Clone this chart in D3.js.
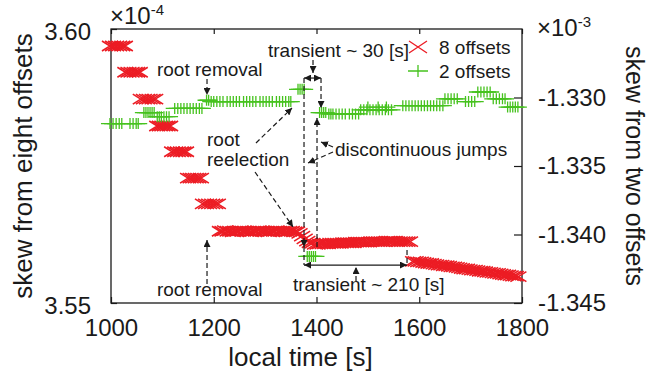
<!DOCTYPE html>
<html>
<head>
<meta charset="utf-8">
<script src="https://cdn.jsdelivr.net/npm/d3@7"></script>
<style>
  body { margin: 0; background: #fff; }
  text { font-family: "Liberation Sans", Arial, sans-serif; fill: #1a1a1a; }
</style>
</head>
<body>
<div id="chart"></div>
<script>
// skew from eight offsets (x 1e-4), left axis
const redTime = [
  998, 1004, 1010, 1016, 1022, 1027,
  1028, 1034, 1040, 1046, 1051, 1056,
  1058, 1064, 1070, 1075, 1081, 1086,
  1090, 1095, 1100, 1105, 1110, 1115,
  1119, 1125, 1130, 1136, 1141, 1146,
  1150, 1155, 1160, 1165, 1170, 1175,
  1179, 1185, 1191, 1197, 1203, 1208,
  1212, 1217, 1222, 1227, 1232, 1237, 1242, 1247, 1252, 1257, 1262, 1267, 1272, 1277, 1282,
  1287, 1292, 1297, 1302, 1307, 1312, 1317, 1322, 1327, 1332, 1337, 1342, 1347, 1352, 1357,
  1362, 1367, 1372, 1377, 1382, 1387, 1392,
  1397, 1402, 1407, 1412, 1417, 1422, 1427, 1432, 1437, 1442, 1447, 1452, 1457, 1462, 1467,
  1472, 1477, 1482, 1487, 1492, 1497, 1502, 1507, 1512, 1517, 1522, 1527, 1532, 1537, 1542,
  1547, 1552, 1557, 1562, 1567, 1572, 1577, 1582,
  1588, 1593, 1598, 1603, 1608, 1613, 1618, 1623, 1628, 1633, 1638, 1643, 1648, 1653, 1658,
  1663, 1668, 1673, 1678, 1683, 1688, 1693, 1698, 1703, 1708, 1713, 1718, 1723, 1728, 1733,
  1738, 1743, 1748, 1753, 1758, 1763, 1768, 1773, 1778, 1783, 1788, 1793
];
const redSkew = [
  3.5969, 3.5969, 3.5969, 3.5969, 3.5969, 3.5969,
  3.5921, 3.5921, 3.5921, 3.5921, 3.5921, 3.5921,
  3.5872, 3.5872, 3.5872, 3.5872, 3.5872, 3.5872,
  3.5823, 3.5823, 3.5823, 3.5823, 3.5823, 3.5823,
  3.5776, 3.5776, 3.5776, 3.5776, 3.5776, 3.5776,
  3.5728, 3.5728, 3.5728, 3.5728, 3.5728, 3.5728,
  3.5681, 3.5681, 3.5681, 3.5681, 3.5681, 3.5681,
  3.5631, 3.5631, 3.5632, 3.5631, 3.5631, 3.5630, 3.5631, 3.5631, 3.5632, 3.5631, 3.5631, 3.5631, 3.5630, 3.5631, 3.5631,
  3.5632, 3.5631, 3.5631, 3.5631, 3.5630, 3.5631, 3.5631, 3.5632, 3.5631, 3.5631, 3.5631, 3.5630, 3.5631, 3.5631, 3.5630,
  3.5630, 3.5627, 3.5622, 3.5617, 3.5613, 3.5610, 3.5609,
  3.5607, 3.5607, 3.5608, 3.5608, 3.5608, 3.5608, 3.5609, 3.5609, 3.5609, 3.5609, 3.5609, 3.5610, 3.5610, 3.5610, 3.5610,
  3.5610, 3.5611, 3.5611, 3.5611, 3.5611, 3.5611, 3.5611, 3.5612, 3.5612, 3.5612, 3.5612, 3.5612, 3.5612, 3.5613, 3.5613,
  3.5613, 3.5613, 3.5612, 3.5612, 3.5612, 3.5612, 3.5612, 3.5612,
  3.5576, 3.5576, 3.5575, 3.5575, 3.5574, 3.5573, 3.5572, 3.5572, 3.5571, 3.5570, 3.5569, 3.5569, 3.5568, 3.5568, 3.5567,
  3.5566, 3.5566, 3.5565, 3.5564, 3.5563, 3.5562, 3.5562, 3.5561, 3.5560, 3.5560, 3.5559, 3.5558, 3.5558, 3.5557, 3.5556,
  3.5556, 3.5555, 3.5554, 3.5554, 3.5553, 3.5552, 3.5551, 3.5551, 3.5550, 3.5549, 3.5549, 3.5548
];

// skew from two offsets (x 1e-3), right axis
const greenTime = [
  998, 1004, 1010, 1016, 1021, 1037, 1043, 1049, 1053,
  1064, 1068, 1072, 1076, 1080, 1084,
  1090, 1094, 1098, 1103, 1108, 1113,
  1124, 1130, 1136, 1142, 1148, 1154, 1160, 1166, 1172, 1177,
  1186, 1190, 1195, 1200, 1206, 1212, 1218, 1226, 1232, 1238, 1244, 1250, 1258, 1264,
  1270, 1276, 1282, 1290, 1296, 1302, 1308, 1314, 1322, 1328, 1334, 1340, 1346, 1350,
  1364, 1368, 1372, 1376,
  1382, 1386, 1390, 1394, 1398,
  1406, 1410, 1414, 1418,
  1424, 1428, 1432, 1438, 1444, 1450, 1456, 1464, 1470, 1476, 1482,
  1486, 1492, 1498, 1500, 1504, 1510, 1516, 1520, 1522, 1528, 1534, 1536, 1540, 1546,
  1568, 1574, 1580, 1586, 1592, 1598, 1604, 1610, 1616, 1622, 1628, 1634, 1640, 1646,
  1650, 1656, 1662, 1668, 1674,
  1690, 1696, 1702, 1708,
  1714, 1720, 1726, 1732, 1738,
  1744, 1750, 1756, 1762, 1767,
  1772, 1777, 1782, 1787, 1792
];
const greenSkew = [
  -1.3319, -1.3319, -1.3319, -1.3319, -1.3319, -1.3319, -1.3319, -1.3319, -1.3319,
  -1.3311, -1.3311, -1.3311, -1.3311, -1.3311, -1.3311,
  -1.3314, -1.3314, -1.3314, -1.3314, -1.3314, -1.3314,
  -1.3308, -1.3308, -1.3308, -1.3308, -1.3308, -1.3308, -1.3308, -1.3308, -1.3308, -1.3308,
  -1.3302, -1.3302, -1.3303, -1.3303, -1.3303, -1.3303, -1.3303, -1.3303, -1.3303, -1.3303, -1.3303, -1.3303, -1.3303, -1.3303,
  -1.3303, -1.3303, -1.3303, -1.3303, -1.3303, -1.3303, -1.3303, -1.3303, -1.3303, -1.3303, -1.3303, -1.3303, -1.3303, -1.3303,
  -1.3294, -1.3294, -1.3294, -1.3294,
  -1.3416, -1.3416, -1.3416, -1.3416, -1.3416,
  -1.3311, -1.3311, -1.3311, -1.3311,
  -1.3312, -1.3312, -1.3312, -1.3312, -1.3312, -1.3312, -1.3312, -1.3312, -1.3312, -1.3312, -1.3312,
  -1.3309, -1.3309, -1.3309, -1.3307, -1.3309, -1.3309, -1.3309, -1.3307, -1.3309, -1.3309, -1.3309, -1.3307, -1.3309, -1.3309,
  -1.3306, -1.3306, -1.3306, -1.3306, -1.3306, -1.3306, -1.3306, -1.3306, -1.3306, -1.3306, -1.3306, -1.3306, -1.3306, -1.3306,
  -1.3301, -1.3301, -1.3301, -1.3301, -1.3301,
  -1.3303, -1.3303, -1.3303, -1.3303,
  -1.3296, -1.3296, -1.3296, -1.3296, -1.3296,
  -1.3301, -1.3301, -1.3301, -1.3301, -1.3301,
  -1.3307, -1.3307, -1.3307, -1.3307, -1.3307
];

const timeTicks = [1000, 1200, 1400, 1600, 1800];
const leftTicks = [3.55, 3.60];
const rightTicks = [-1.345, -1.340, -1.335, -1.330];
const legendLabels = ["8 offsets", "2 offsets"];

const w = 648, h = 378;
const box = {left: 111, right: 522, top: 29, bottom: 303};
const red = "#ec1c24", green = "#46c21e", ink = "#1a1a1a";

const svg = d3.select("#chart").append("svg")
    .attr("width", w)
    .attr("height", h);

const x = d3.scaleLinear().domain([1000, 1800]).range([box.left, box.right]);
const yL = d3.scaleLinear().domain([3.55, 3.60]).range([box.bottom, box.top]);
const yR = d3.scaleLinear().domain([-1.345, -1.325]).range([box.bottom, box.top]);

// arrowheads
const defs = svg.append("defs");
defs.append("marker")
    .attr("id", "head")
    .attr("markerUnits", "userSpaceOnUse")
    .attr("markerWidth", 8).attr("markerHeight", 7)
    .attr("refX", 7).attr("refY", 3.5)
    .attr("orient", "auto-start-reverse")
  .append("path")
    .attr("d", "M0,0L7,3.5L0,7Z")
    .attr("fill", ink);

// axes
function styleAxis(g) {
    g.select(".domain").remove();
    g.selectAll("line").attr("stroke", ink).attr("stroke-width", 1.2);
    g.selectAll("text").style("font-size", "24px").attr("fill", ink);
}

svg.append("g")
    .attr("transform", `translate(0,${box.bottom})`)
    .call(d3.axisBottom(x).tickValues(timeTicks).tickSizeInner(-6).tickSizeOuter(0).tickPadding(16)
        .tickFormat(d3.format("d")))
    .call(styleAxis);

svg.append("g")
    .attr("transform", `translate(0,${box.top})`)
    .call(d3.axisTop(x).tickValues(timeTicks).tickSizeInner(-5).tickSizeOuter(0).tickFormat(""))
    .call(styleAxis);

svg.append("g")
    .attr("transform", `translate(${box.left},0)`)
    .call(d3.axisLeft(yL).tickValues(leftTicks).tickSizeInner(-6).tickSizeOuter(0).tickPadding(20)
        .tickFormat(d => d.toFixed(2)))
    .call(styleAxis)
    .selectAll("text").attr("dy", "0.45em");

svg.append("g")
    .attr("transform", `translate(${box.right},0)`)
    .call(d3.axisRight(yR).tickValues(rightTicks).tickSizeInner(-8).tickSizeOuter(0).tickPadding(16)
        .tickFormat(d => d.toFixed(3)))
    .call(styleAxis);

svg.append("rect")
    .attr("x", box.left).attr("y", box.top)
    .attr("width", box.right - box.left).attr("height", box.bottom - box.top)
    .attr("fill", "none").attr("stroke", ink).attr("stroke-width", 1.3);

// exponent labels
function exponent(xp, yp, power) {
    const t = svg.append("text").attr("x", xp).attr("y", yp).style("font-size", "24px");
    t.append("tspan").text("\u00d710");
    t.append("tspan").attr("dy", -9).style("font-size", "15px").text(power);
}
exponent(110, 24, "-4");
exponent(537, 36, "-3");

// axis titles
svg.append("text")
    .attr("x", (box.left + box.right) / 2 - 16).attr("y", 366)
    .attr("text-anchor", "middle").style("font-size", "26px")
    .text("local time [s]");

svg.append("text")
    .attr("transform", `translate(32,${(box.top + box.bottom) / 2}) rotate(-90)`)
    .attr("text-anchor", "middle").style("font-size", "26px")
    .text("skew from eight offsets");

svg.append("text")
    .attr("transform", `translate(626,${(box.top + box.bottom) / 2}) rotate(90)`)
    .attr("text-anchor", "middle").style("font-size", "25px")
    .text("skew from two offsets");

// data marks
const crossShape = "M-8,-5L8,5M-8,5L8,-5";
const plusShape = "M-9,0H9M0,-5.5V5.5";

svg.append("g").attr("class", "eight")
  .selectAll("path")
  .data(d3.zip(redTime, redSkew))
  .join("path")
    .attr("transform", d => `translate(${x(d[0])},${yL(d[1])})`)
    .attr("d", crossShape)
    .attr("fill", "none").attr("stroke", red).attr("stroke-width", 1.6);

svg.append("g").attr("class", "two")
  .selectAll("path")
  .data(d3.zip(greenTime, greenSkew))
  .join("path")
    .attr("transform", d => `translate(${x(d[0])},${yR(d[1])})`)
    .attr("d", plusShape)
    .attr("fill", "none").attr("stroke", green).attr("stroke-width", 1.3);

// annotations, placed in (time, right-axis skew) units
const noteText = [
  {text: "root removal", t: 1089.5, v: -1.32843},
  {text: "root removal", t: 1089.5, v: -1.34449},
  {text: "root", t: 1186.9, v: -1.33354},
  {text: "reelection", t: 1186.9, v: -1.33500},
  {text: "transient ~ 30 [s]", t: 1305.6, v: -1.32704},
  {text: "discontinuous jumps", t: 1436.0, v: -1.33427},
  {text: "transient ~ 210 [s]", t: 1354.3, v: -1.34412}
];

// [t0, v0, t1, v1, head at end]
const dashedLines = [
  [1186.9, -1.32865, 1186.9, -1.32982, true],
  [1186.9, -1.34361, 1186.9, -1.34040, true],
  [1282.2, -1.33332, 1352.3, -1.33077, true],
  [1280.3, -1.33544, 1354.3, -1.33945, true],
  [1432.1, -1.33361, 1408.8, -1.33325, true],
  [1432.1, -1.33398, 1383.5, -1.33478, true],
  [1393.2, -1.32726, 1393.2, -1.32821, true],
  [1476.9, -1.34339, 1476.9, -1.34237, true],
  [1375.7, -1.32858, 1375.7, -1.34091, true],
  [1375.7, -1.34091, 1375.7, -1.34223, false],
  [1408.8, -1.32858, 1408.8, -1.33077, true],
  [1401.0, -1.34091, 1401.0, -1.33150, true],
  [1576.2, -1.34113, 1576.2, -1.34223, false]
];

const spans = [
  [1375.7, 1408.8, -1.32858],
  [1375.7, 1576.2, -1.34223]
];

const notes = svg.append("g").attr("class", "notes");

notes.selectAll("line.dash")
  .data(dashedLines)
  .join("line")
    .attr("class", "dash")
    .attr("x1", d => x(d[0])).attr("y1", d => yR(d[1]))
    .attr("x2", d => x(d[2])).attr("y2", d => yR(d[3]))
    .attr("stroke", ink).attr("stroke-width", 1.2)
    .attr("stroke-dasharray", "5,3")
    .attr("marker-end", d => d[4] ? "url(#head)" : null);

notes.selectAll("line.span")
  .data(spans)
  .join("line")
    .attr("class", "span")
    .attr("x1", d => x(d[0])).attr("x2", d => x(d[1]))
    .attr("y1", d => yR(d[2])).attr("y2", d => yR(d[2]))
    .attr("stroke", ink).attr("stroke-width", 1.2)
    .attr("marker-start", "url(#head)")
    .attr("marker-end", "url(#head)");

notes.selectAll("text")
  .data(noteText)
  .join("text")
    .attr("x", d => x(d.t)).attr("y", d => yR(d.v))
    .style("font-size", "19px")
    .text(d => d.text);

// legend
const legend = svg.append("g").attr("transform", "translate(418,47)");
legendLabels.forEach((label, i) => {
    const row = legend.append("g").attr("transform", `translate(0,${i * 24})`);
    row.append("path")
        .attr("d", i === 0 ? "M-9,-6L9,6M-9,6L9,-6" : "M-10,0H10M0,-6V6")
        .attr("fill", "none")
        .attr("stroke", i === 0 ? red : green)
        .attr("stroke-width", 1.3);
    row.append("text")
        .attr("x", 21).attr("y", 7)
        .style("font-size", "19px")
        .text(label);
});
</script>
</body>
</html>
